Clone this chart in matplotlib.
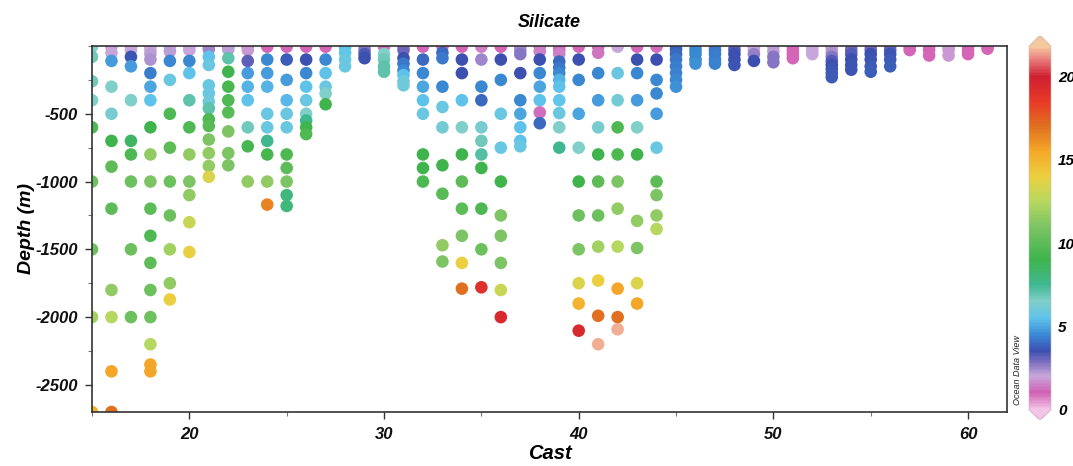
import matplotlib
matplotlib.use("Agg")
import matplotlib.pyplot as plt
from matplotlib.colors import LinearSegmentedColormap, Normalize
from matplotlib.ticker import MultipleLocator, FixedLocator

plt.rcParams['font.family'] = ['Liberation Sans', 'DejaVu Sans']
plt.rcParams['axes.unicode_minus'] = False

# Station (cast) numbers along the section
cast_numbers = list(range(15, 62))

# Sample depths (m) for each cast
depth_by_cast = [
    [5, 80, 260, 400, 600, 1000, 1500, 2000, 2700],                          # 15
    [5, 50, 110, 300, 500, 700, 890, 1200, 1800, 2000, 2400, 2700],          # 16
    [5, 30, 80, 150, 400, 700, 800, 1000, 1500, 2000],                       # 17
    [5, 30, 60, 100, 200, 300, 400, 600, 800, 1000, 1200, 1400, 1600, 1800,
     2000, 2200, 2350, 2400],                                                # 18
    [5, 40, 110, 250, 500, 750, 1000, 1250, 1500, 1750, 1870],               # 19
    [5, 30, 110, 200, 400, 600, 800, 1000, 1100, 1300, 1520],                # 20
    [5, 25, 80, 140, 290, 350, 410, 460, 540, 590, 690, 790, 885, 965],      # 21
    [5, 25, 90, 190, 300, 400, 490, 630, 790, 880],                          # 22
    [5, 30, 110, 200, 300, 400, 600, 740, 1000],                             # 23
    [5, 100, 200, 300, 500, 600, 700, 800, 1000, 1170],                      # 24
    [5, 100, 250, 400, 500, 600, 800, 900, 1000, 1100, 1180],                # 25
    [5, 100, 200, 300, 400, 500, 550, 600, 650],                             # 26
    [5, 100, 200, 300, 350, 430],                                            # 27
    [10, 50, 100, 150],                                                      # 28
    [5, 30, 60, 90],                                                         # 29
    [5, 60, 100, 150, 190],                                                  # 30
    [5, 30, 90, 130, 180, 215, 260, 290],                                    # 31
    [5, 100, 200, 300, 400, 500, 800, 900, 1000],                            # 32
    [5, 50, 90, 300, 450, 600, 880, 1090, 1470, 1590],                       # 33
    [5, 100, 200, 400, 600, 800, 1000, 1200, 1400, 1600, 1790],              # 34
    [5, 100, 300, 400, 600, 700, 800, 900, 1200, 1500, 1780],                # 35
    [5, 100, 250, 500, 750, 1000, 1250, 1400, 1600, 1800, 2000],             # 36
    [5, 30, 60, 200, 400, 500, 600, 700, 740],                               # 37
    [5, 40, 100, 200, 300, 400, 490, 570],                                   # 38
    [5, 30, 60, 115, 160, 200, 250, 300, 400, 495, 600, 750],                # 39
    [5, 100, 250, 500, 750, 1000, 1250, 1500, 1750, 1900, 2100],             # 40
    [5, 50, 200, 400, 600, 800, 1000, 1250, 1480, 1730, 1990, 2200],         # 41
    [5, 200, 400, 600, 800, 1000, 1200, 1480, 1790, 2000, 2090],             # 42
    [5, 100, 200, 400, 600, 800, 1290, 1490, 1750, 1900],                    # 43
    [5, 100, 250, 350, 500, 750, 1000, 1100, 1250, 1350],                    # 44
    [5, 25, 60, 100, 150, 200, 250, 300],                                    # 45
    [5, 30, 60, 100, 130],                                                   # 46
    [5, 30, 60, 100, 130],                                                   # 47
    [5, 30, 60, 100, 140],                                                   # 48
    [5, 30, 60, 110],                                                        # 49
    [5, 40, 80, 120],                                                        # 50
    [5, 30, 60, 90],                                                         # 51
    [5, 30, 60],                                                             # 52
    [5, 20, 50, 80, 110, 140, 170, 200, 230],                                # 53
    [5, 30, 60, 100, 140, 175],                                              # 54
    [5, 30, 60, 100, 150, 190],                                              # 55
    [5, 30, 60, 100, 150],                                                   # 56
    [5, 30],                                                                 # 57
    [5, 30, 70],                                                             # 58
    [5, 30, 70],                                                             # 59
    [5, 30, 60],                                                             # 60
    [5, 20],                                                                 # 61
]

# Silicate concentration at each sample
silicate_by_cast = [
    [6.5, 6.8, 6.8, 6.5, 9.5, 10.5, 10.5, 12, 15],                           # 15
    [1.8, 2.0, 4.8, 6.5, 6.3, 9, 10, 10, 11.5, 12.5, 15.5, 17],              # 16
    [1.5, 2, 3.6, 4.8, 6.5, 8.5, 9.5, 10.5, 10.5, 10.5],                     # 17
    [2, 2, 2.2, 2.3, 4.3, 5, 5.5, 9, 11.5, 11, 10, 9.5, 10, 10.5, 10.5,
     12.5, 15.5, 15.5],                                                      # 18
    [2, 2.2, 4.5, 5.8, 9.5, 10, 10.5, 10.5, 12, 11.5, 14],                   # 19
    [1.8, 2, 4.5, 5.5, 7, 9.5, 11.5, 11, 11.5, 13, 13.8],                    # 20
    [1.5, 2.5, 5.5, 5.8, 5.8, 5.8, 6, 7, 9.5, 9.8, 11, 11.5, 11.5, 13.5],    # 21
    [1, 2.2, 7, 9, 9.3, 9.5, 9.8, 11, 11, 11],                               # 22
    [1, 1.8, 3.2, 4.8, 5.2, 5.5, 6.8, 9.3, 11.5],                            # 23
    [1, 4.5, 4.8, 5.2, 5.8, 5.8, 7.5, 9.2, 11.5, 16.5],                      # 24
    [1, 3.8, 4.8, 5.3, 5.8, 5.8, 9.5, 10, 11, 8, 8],                         # 25
    [1, 3.5, 4.5, 5.5, 5.8, 6.5, 7.5, 9, 9.5],                               # 26
    [1, 4.5, 5.5, 5.8, 6.5, 9],                                              # 27
    [5.5, 5.6, 5.8, 5.8],                                                    # 28
    [1.5, 2.8, 3.4, 3.5],                                                    # 29
    [1.3, 6.5, 6.8, 7, 7],                                                   # 30
    [1.2, 3, 3.5, 4.2, 4.5, 5.5, 6, 6],                                      # 31
    [1, 4, 4.5, 5, 5.5, 5.8, 9, 9, 9.5],                                     # 32
    [1, 4, 4.2, 4.5, 5.8, 6.2, 9, 9.8, 11.5, 11],                            # 33
    [1, 3.5, 3.5, 5.5, 6.5, 9, 10, 10, 11, 14, 17],                          # 34
    [1.5, 2.5, 4.5, 4, 6.3, 6.8, 7.2, 9, 9.5, 10.5, 19],                     # 35
    [1, 3.5, 4.5, 5.8, 5.8, 9, 11, 11, 11, 13, 19.5],                        # 36
    [1.5, 2.5, 2.8, 3.5, 4.5, 5, 5.5, 5.5, 5.8],                             # 37
    [1.2, 1.5, 3.5, 4.5, 5, 5.5, 1.2, 4],                                    # 38
    [1, 1.2, 1.5, 4, 4.2, 4.5, 5.2, 5.5, 5.6, 5.8, 6.5, 7.5],                # 39
    [1, 3.5, 4.5, 5, 6.5, 9, 10.5, 11, 13.5, 15, 19.5],                      # 40
    [1, 1.3, 4.5, 4.8, 6.3, 9, 10, 10.5, 12, 14, 17, 21.5],                  # 41
    [2, 5.8, 6.2, 9.5, 9.5, 11, 11.5, 12.5, 15.5, 17, 21.5],                 # 42
    [1, 3.5, 4.5, 4.8, 6.5, 9, 11.5, 11, 13.5, 15.5],                        # 43
    [1.2, 3.5, 4.5, 4.5, 4.8, 5.8, 10, 11, 11.5, 12.5],                      # 44
    [1.5, 3.8, 4, 4.2, 4.3, 4.4, 4.5, 4.6],                                  # 45
    [1.3, 4.5, 4.5, 4.5, 4.6],                                               # 46
    [1.3, 4.2, 4.3, 4.3, 4.4],                                               # 47
    [1.3, 3.3, 3.5, 3.5, 3.6],                                               # 48
    [1.5, 2, 2.6, 3.5],                                                      # 49
    [1.8, 2.2, 2.8, 2.8],                                                    # 50
    [0.9, 1, 1, 1],                                                          # 51
    [1.8, 2, 2],                                                             # 52
    [1.2, 1.8, 2.3, 2.8, 3.3, 3.5, 3.6, 3.7, 3.7],                           # 53
    [1.3, 3, 3.3, 3.5, 3.6, 3.6],                                            # 54
    [1.3, 3, 3.5, 3.6, 3.7, 3.8],                                            # 55
    [1.3, 3.2, 3.6, 3.7, 3.8],                                               # 56
    [1, 1],                                                                  # 57
    [0.9, 1, 1],                                                             # 58
    [1.8, 1.8, 1.8],                                                         # 59
    [0.9, 1, 1],                                                             # 60
    [1, 1],                                                                  # 61
]

# Colour scale (value -> colour)
cbar_stops = [0, 1, 2, 2.8, 3.5, 4.5, 5.5, 6.5, 7.5, 9, 11, 12.5, 14, 15.5,
              17, 18.5, 20, 21, 21.8]
cbar_colors = ['#f2c4e6', '#d25fb4', '#c8a8dc', '#8070c0', '#3c50b0',
               '#3a8ad4', '#60c4ec', '#80cfc8', '#40b890', '#3fb44c',
               '#7cc464', '#b8d860', '#ecd040', '#f4a828', '#e07020',
               '#e83a28', '#d02030', '#e87878', '#f6c8a0']
cbar_ticks = [0, 5, 10, 15, 20]

vmin, vmax = cbar_stops[0], cbar_stops[-1]
cmap = LinearSegmentedColormap.from_list(
    'odv', [((s - vmin) / (vmax - vmin), c) for s, c in zip(cbar_stops, cbar_colors)])
cmap.set_under(cbar_colors[0])
cmap.set_over(cbar_colors[-1])

xs, ys, cs = [], [], []
for cast, depths, vals in zip(cast_numbers, depth_by_cast, silicate_by_cast):
    for d, v in zip(depths, vals):
        xs.append(cast)
        ys.append(-d)
        cs.append(v)

fig = plt.figure(figsize=(10.73, 4.66), dpi=100)
ax = fig.add_axes([92 / 1073, 1 - 412 / 466, (1007 - 92) / 1073, (412 - 46) / 466])

sc = ax.scatter(xs, ys, c=cs, cmap=cmap, norm=Normalize(vmin, vmax),
                s=82, edgecolors='none', zorder=2)

ax.set_xlim(15, 62)
ax.set_ylim(-2700, 0)
ax.xaxis.set_major_locator(FixedLocator([20, 30, 40, 50, 60]))
ax.xaxis.set_minor_locator(MultipleLocator(5))
ax.yaxis.set_major_locator(FixedLocator([-2500, -2000, -1500, -1000, -500]))
ax.yaxis.set_minor_locator(MultipleLocator(250))

tick_font = dict(fontsize=12, fontweight='bold', fontstyle='italic')
for lbl in ax.get_xticklabels() + ax.get_yticklabels():
    lbl.set(**tick_font)
ax.tick_params(which='major', direction='out', length=5, width=1, colors='#333333',
               labelcolor='#111111', pad=5)
ax.tick_params(which='minor', direction='out', length=3, width=0.8, colors='#777777')
ax.tick_params(axis='x', which='major', pad=6)
for sp in ax.spines.values():
    sp.set_linewidth(1.2)
    sp.set_color('#333333')

ax.set_title('Silicate', fontsize=13, fontweight='bold', fontstyle='italic', pad=14)
ax.set_xlabel('Cast', fontsize=14.5, fontweight='bold', fontstyle='italic')
ax.xaxis.set_label_coords(0.5, -0.088)
ax.set_ylabel('Depth (m)', fontsize=14, fontweight='bold', fontstyle='italic')
ax.yaxis.set_label_coords(-0.062, 0.5)

cax = fig.add_axes([1029 / 1073, 1 - 420 / 466, 22 / 1073, 384 / 466])
cb = fig.colorbar(sc, cax=cax, extend='both', extendfrac=0.028, ticks=cbar_ticks)
cb.outline.set_linewidth(0.4)
cb.outline.set_edgecolor('#bbbbbb')
cax.tick_params(length=0, pad=5)
for lbl in cax.get_yticklabels():
    lbl.set(fontsize=11, fontweight='bold', fontstyle='italic')

fig.text(1017 / 1073, 1 - 370 / 466, 'Ocean Data View', rotation=90,
         fontsize=6.5, fontstyle='italic', ha='center', va='center', color='#222222')

fig.savefig('out.png', dpi=100)
